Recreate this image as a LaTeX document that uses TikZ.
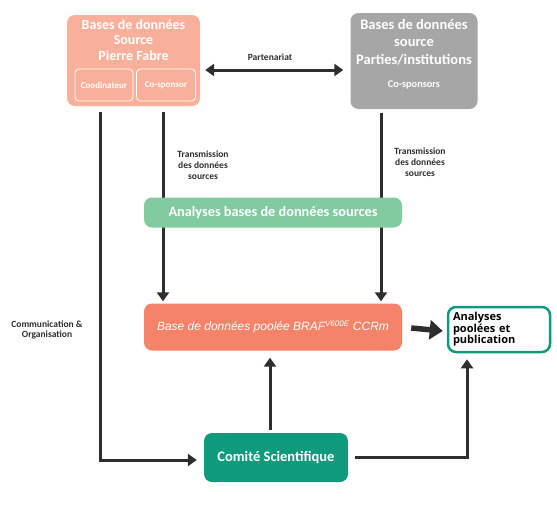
\documentclass[tikz,border=0pt]{standalone}
\usepackage{fontspec}
\setmainfont{Carlito}
\newfontfamily\arialfont{Liberation Sans}
\newfontfamily\pubfont{Open Sans}
\usepackage{tikz}
\usetikzlibrary{arrows.meta}
\definecolor{salmonlight}{HTML}{F8B09B}
\definecolor{salmondark}{HTML}{F4836A}
\definecolor{greylight}{HTML}{A6A6A6}
\definecolor{greenlight}{HTML}{82CAA0}
\definecolor{tealdark}{HTML}{0F9A7E}
\definecolor{linegrey}{HTML}{2E2E2E}
\tikzstyle{box}=[rectangle, rounded corners=8pt, text=white, align=center, inner sep=0pt]
\tikzstyle{srcbox}=[box, fill=salmonlight, minimum width=133pt, minimum height=91pt]
\tikzstyle{partbox}=[box, fill=greylight, minimum width=127pt, minimum height=96pt]
\tikzstyle{subbox}=[box, draw=white, line width=0.8pt, rounded corners=4pt, minimum height=32pt, font=\bfseries\fontsize{9}{11}\selectfont]
\tikzstyle{anabox}=[box, fill=greenlight, minimum width=258pt, minimum height=30pt, font=\bfseries\fontsize{14.3}{17}\selectfont]
\tikzstyle{basebox}=[box, fill=salmondark, minimum width=258pt, minimum height=47pt, font=\arialfont\itshape\fontsize{12}{15}\selectfont]
\tikzstyle{combox}=[box, fill=tealdark, minimum width=144pt, minimum height=49pt, font=\bfseries\fontsize{14.5}{17}\selectfont]
\tikzstyle{pubbox}=[box, draw=tealdark, fill=white, line width=2.5pt, text=black, align=left, text width=92pt, minimum width=102pt, minimum height=45pt, font=\pubfont\bfseries\fontsize{11}{11.5}\selectfont]
\tikzstyle{title}=[text=white, align=center, font=\bfseries\fontsize{14}{15.5}\selectfont]
\tikzstyle{label}=[text=linegrey, align=center, font=\bfseries\fontsize{9.5}{10.8}\selectfont]
\tikzstyle{conn}=[draw=linegrey, line width=3pt, >={Triangle[length=9pt,width=12pt]}]
\tikzstyle{bigconn}=[draw=linegrey, line width=5.5pt, >={Triangle[length=13pt,width=19pt]}]

\begin{document}
\begin{tikzpicture}[x=1pt, y=-1pt]
	\useasboundingbox (0,0) rectangle (557,507);
	\begin{scope}
		\node (src) at (133.5,60.5)[srcbox] {};
		\node (srctitle) at (133.5,40)[title] {Bases de données\\Source\\Pierre Fabre};
		\node (coord) at (104,85)[subbox, minimum width=58pt] {Coodinateur};
		\node (cospons) at (166,85)[subbox, minimum width=59pt] {Co-sponsor};
		\node (part) at (414,61)[partbox] {};
		\node (parttitle) at (414,42)[title, font=\bfseries\fontsize{14.5}{17.5}\selectfont] {Bases de données\\source\\Parties/institutions};
		\node (partsub) at (414,85)[title, font=\bfseries\fontsize{10.3}{12}\selectfont] {Co-sponsors};
		\node (base) at (273,327)[basebox] {Base de données poolée BRAF\textsuperscript{V600E} CCR\textit{m}};
		\node (pub) at (499,329.5)[pubbox] {Analyses\\poolées et\\publication};
		\node (comite) at (276,457.5)[combox] {Comité Scientifique};
	\end{scope}
	\begin{scope}
		\node (partlbl) at (270,57)[label] {Partenariat};
		\node (trleft) at (203,165)[label] {Transmission\\des données\\sources};
		\node (trright) at (420,162)[label] {Transmission\\des données\\sources};
		\node (comlbl) at (47,330)[label] {Communication \&\\Organisation};
	\end{scope}
	\begin{scope}
		\coordinate (tl) at ([xshift=29.5pt,yshift=-6pt]src.south);
		\coordinate (tr) at ([xshift=-33pt,yshift=-4pt]part.south);
		\draw [conn, <->] ([xshift=5pt,yshift=-9.5pt]src.east) -- ([xshift=-7pt,yshift=-9pt]part.west);
		\draw [conn, ->] ([xshift=-33.5pt,yshift=-6pt]src.south) |- ([xshift=-7pt,yshift=-2.5pt]comite.west);
		\draw [conn, ->, shorten >=2pt] (tl) -- (tl |- base.north);
		\draw [conn, ->, shorten >=2pt] (tr) -- (tr |- base.north);
		\draw [conn, ->] ([xshift=-6pt,yshift=3pt]comite.north) -- ([xshift=-3pt,yshift=-7pt]base.south);
		\draw [conn, ->] ([xshift=7pt]comite.east) -| ([xshift=-32pt,yshift=-6pt]pub.south);
		\draw [bigconn, ->] ([xshift=9pt,yshift=-1pt]base.east) -- ([xshift=-4pt,yshift=-1.5pt]pub.west);
	\end{scope}
	\node (analyses) at (273,212.5)[anabox] {Analyses bases de données sources};
\end{tikzpicture}
\end{document}
